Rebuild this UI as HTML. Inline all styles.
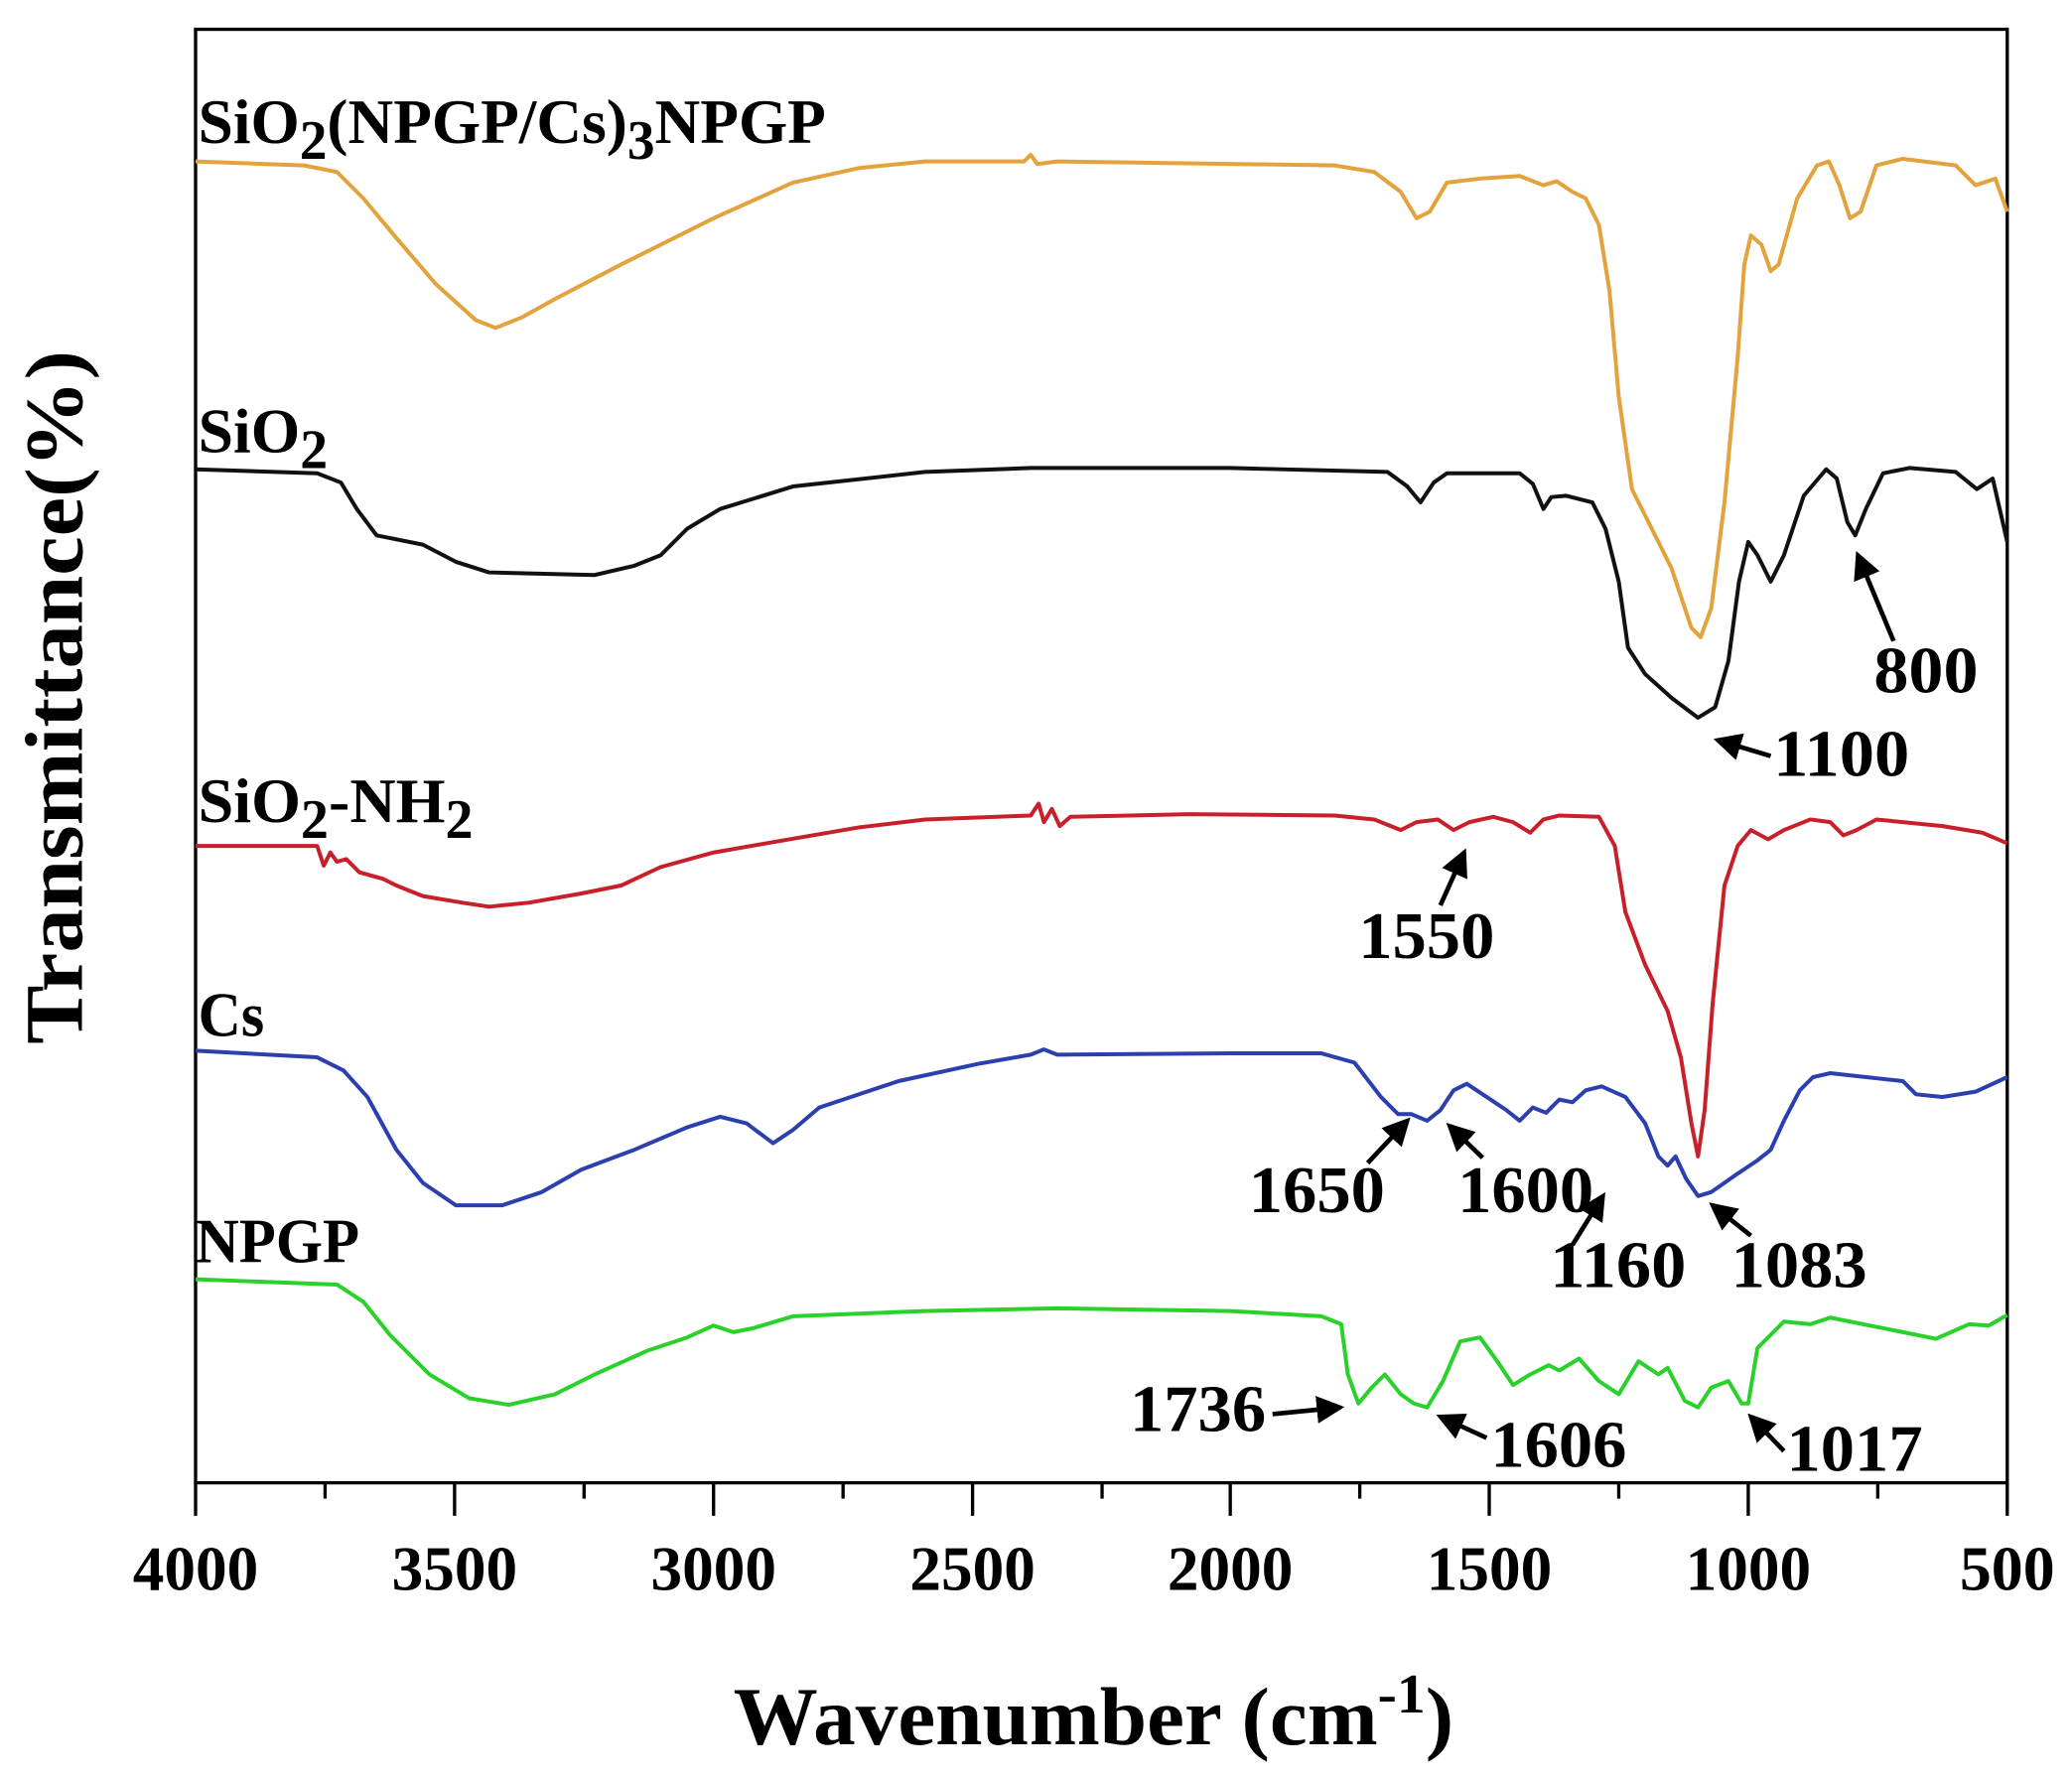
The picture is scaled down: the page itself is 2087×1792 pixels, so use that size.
<!DOCTYPE html>
<html><head><meta charset="utf-8"><style>html,body{margin:0;padding:0;background:#fff}svg{display:block}</style></head>
<body>
<svg width="2087" height="1792" viewBox="0 0 1568 1346" xmlns="http://www.w3.org/2000/svg" font-family="Liberation Serif, serif" font-weight="bold">
<defs><marker id="ah" markerWidth="6" markerHeight="6" refX="5" refY="3" orient="auto" markerUnits="strokeWidth"><path d="M0,0 L6,3 L0,6 Z" fill="#000"/></marker></defs>
<rect x="148" y="22" width="1371" height="1100" fill="none" stroke="#000" stroke-width="2.5"/>
<g stroke="#000" stroke-width="2.5">
<line x1="148" y1="1122" x2="148" y2="1147"/><line x1="344" y1="1122" x2="344" y2="1147"/><line x1="540" y1="1122" x2="540" y2="1147"/><line x1="736" y1="1122" x2="736" y2="1147"/><line x1="931" y1="1122" x2="931" y2="1147"/><line x1="1127" y1="1122" x2="1127" y2="1147"/><line x1="1323" y1="1122" x2="1323" y2="1147"/><line x1="1519" y1="1122" x2="1519" y2="1147"/>
<line x1="246" y1="1122" x2="246" y2="1134"/><line x1="442" y1="1122" x2="442" y2="1134"/><line x1="638" y1="1122" x2="638" y2="1134"/><line x1="834" y1="1122" x2="834" y2="1134"/><line x1="1029" y1="1122" x2="1029" y2="1134"/><line x1="1225" y1="1122" x2="1225" y2="1134"/><line x1="1421" y1="1122" x2="1421" y2="1134"/>
</g>
<g font-size="48" text-anchor="middle">
<text x="148" y="1203" textLength="95" lengthAdjust="spacingAndGlyphs">4000</text><text x="344" y="1203" textLength="95" lengthAdjust="spacingAndGlyphs">3500</text><text x="540" y="1203" textLength="95" lengthAdjust="spacingAndGlyphs">3000</text><text x="736" y="1203" textLength="95" lengthAdjust="spacingAndGlyphs">2500</text><text x="931" y="1203" textLength="95" lengthAdjust="spacingAndGlyphs">2000</text><text x="1127" y="1203" textLength="95" lengthAdjust="spacingAndGlyphs">1500</text><text x="1323" y="1203" textLength="95" lengthAdjust="spacingAndGlyphs">1000</text><text x="1519" y="1203" textLength="72" lengthAdjust="spacingAndGlyphs">500</text>
</g>
<text x="555" y="1320" font-size="62" textLength="545" lengthAdjust="spacingAndGlyphs">Wavenumber (cm<tspan dy="-24" font-size="42">-1</tspan><tspan dy="24">)</tspan></text>
<text transform="translate(62,790) rotate(-90)" font-size="62" textLength="525" lengthAdjust="spacingAndGlyphs">Transmittance(%)</text>
<g fill="none" stroke-width="3" stroke-linejoin="round">
<path stroke="#e3a23c" d="M148,122 L230,125 L255,130 L275,150 L300,180 L330,215 L360,242 L375,248 L395,240 L422,225 L470,200 L540,165 L600,138 L650,127 L700,122 L775,122 L780,117 L785,124 L800,122 L1010,125 L1040,130 L1060,145 L1072,165 L1082,160 L1095,138 L1120,135 L1150,133 L1168,140 L1178,137 L1190,145 L1200,150 L1210,170 L1218,220 L1225,300 L1235,370 L1250,400 L1265,430 L1280,475 L1287,482 L1295,460 L1305,380 L1315,270 L1320,200 L1325,178 L1333,185 L1340,205 L1346,200 L1360,150 L1375,125 L1384,122 L1392,140 L1400,165 L1408,160 L1420,125 L1440,120 L1480,125 L1495,140 L1510,135 L1519,160"/>
<path stroke="#111" d="M148,355 L240,358 L258,365 L270,385 L285,405 L320,412 L345,425 L370,433 L450,435 L480,428 L500,420 L520,400 L545,385 L600,368 L700,357 L780,354 L931,354 L1050,357 L1065,368 L1075,380 L1085,365 L1095,358 L1150,358 L1160,366 L1168,385 L1174,376 L1185,375 L1205,380 L1215,400 L1225,440 L1232,490 L1245,510 L1265,528 L1285,543 L1298,535 L1308,500 L1316,440 L1323,410 L1330,420 L1340,440 L1350,420 L1365,375 L1382,355 L1390,362 L1398,395 L1404,405 L1412,385 L1425,358 L1445,354 L1480,357 L1496,370 L1508,362 L1519,410"/>
<path stroke="#c8202a" d="M148,640 L240,640 L245,655 L250,645 L255,652 L262,650 L272,660 L290,665 L300,670 L320,678 L350,683 L370,686 L400,683 L440,676 L470,670 L500,656 L540,645 L580,638 L650,626 L700,620 L780,617 L786,608 L790,622 L796,612 L802,625 L810,618 L900,616 L1010,617 L1040,620 L1060,628 L1072,622 L1088,620 L1100,628 L1112,622 L1130,618 L1145,622 L1158,630 L1168,620 L1180,617 L1210,618 L1222,640 L1230,690 L1245,730 L1262,765 L1272,800 L1280,850 L1285,875 L1290,840 L1296,760 L1305,670 L1315,640 L1325,628 L1338,635 L1350,628 L1370,620 L1385,622 L1395,632 L1405,628 L1420,620 L1470,625 L1500,630 L1519,638"/>
<path stroke="#2c3fae" d="M148,795 L240,800 L260,810 L278,830 L300,870 L320,895 L345,912 L380,912 L410,902 L440,885 L480,870 L520,853 L545,845 L565,850 L585,865 L600,855 L620,838 L680,818 L740,805 L780,798 L790,794 L800,798 L931,797 L1000,797 L1025,804 L1045,830 L1058,843 L1068,843 L1080,848 L1090,840 L1100,825 L1110,820 L1125,830 L1140,840 L1150,848 L1160,838 L1170,842 L1180,832 L1190,834 L1200,825 L1212,822 L1230,830 L1245,850 L1255,875 L1262,882 L1268,875 L1276,892 L1285,905 L1295,902 L1305,895 L1315,888 L1330,878 L1340,870 L1350,848 L1362,825 L1372,815 L1385,812 L1440,818 L1450,828 L1470,830 L1495,826 L1519,815"/>
<path stroke="#2bd12b" d="M148,968 L255,972 L275,985 L295,1010 L325,1040 L355,1058 L385,1063 L420,1055 L450,1040 L490,1022 L520,1012 L540,1003 L555,1008 L570,1005 L600,996 L700,992 L800,990 L931,992 L1000,996 L1015,1002 L1020,1040 L1028,1062 L1038,1050 L1048,1040 L1060,1055 L1070,1062 L1080,1065 L1092,1045 L1105,1015 L1120,1012 L1133,1030 L1145,1048 L1158,1040 L1172,1033 L1180,1037 L1195,1028 L1210,1045 L1225,1055 L1240,1030 L1255,1040 L1262,1035 L1275,1060 L1285,1065 L1295,1050 L1308,1045 L1318,1062 L1323,1062 L1330,1020 L1340,1010 L1350,1000 L1370,1002 L1385,997 L1440,1008 L1465,1013 L1490,1002 L1505,1003 L1519,995"/>
</g>
<g font-size="48">
<text x="150" y="108" textLength="475" lengthAdjust="spacingAndGlyphs">SiO<tspan dy="12" font-size="42">2</tspan><tspan dy="-12">(NPGP/Cs)</tspan><tspan dy="12" font-size="42">3</tspan><tspan dy="-12">NPGP</tspan></text>
<text x="150" y="342" textLength="98" lengthAdjust="spacingAndGlyphs">SiO<tspan dy="12" font-size="42">2</tspan></text>
<text x="150" y="622" textLength="208" lengthAdjust="spacingAndGlyphs">SiO<tspan dy="12" font-size="42">2</tspan><tspan dy="-12">-NH</tspan><tspan dy="12" font-size="42">2</tspan></text>
<text x="150" y="784" textLength="50" lengthAdjust="spacingAndGlyphs">Cs</text>
<text x="148" y="955" textLength="124" lengthAdjust="spacingAndGlyphs">NPGP</text>
</g>
<g font-size="50">
<text x="1418" y="524" textLength="79" lengthAdjust="spacingAndGlyphs">800</text>
<text x="1342" y="587" textLength="103" lengthAdjust="spacingAndGlyphs">1100</text>
<text x="1028" y="725" textLength="103" lengthAdjust="spacingAndGlyphs">1550</text>
<text x="945" y="917" textLength="103" lengthAdjust="spacingAndGlyphs">1650</text>
<text x="1103" y="917" textLength="103" lengthAdjust="spacingAndGlyphs">1600</text>
<text x="1173" y="974" textLength="103" lengthAdjust="spacingAndGlyphs">1160</text>
<text x="1310" y="974" textLength="103" lengthAdjust="spacingAndGlyphs">1083</text>
<text x="855" y="1083" textLength="103" lengthAdjust="spacingAndGlyphs">1736</text>
<text x="1128" y="1110" textLength="103" lengthAdjust="spacingAndGlyphs">1606</text>
<text x="1352" y="1113" textLength="103" lengthAdjust="spacingAndGlyphs">1017</text>
</g>
<g stroke="#000" stroke-width="3.5" marker-end="url(#ah)">
<line x1="1433" y1="485" x2="1406" y2="420"/>
<line x1="1340" y1="572" x2="1300" y2="560"/>
<line x1="1090" y1="685" x2="1108" y2="645"/>
<line x1="1035" y1="880" x2="1065" y2="848"/>
<line x1="1122" y1="876" x2="1097" y2="852"/>
<line x1="1190" y1="942" x2="1213" y2="905"/>
<line x1="1325" y1="935" x2="1296" y2="912"/>
<line x1="963" y1="1070" x2="1014" y2="1065"/>
<line x1="1125" y1="1088" x2="1090" y2="1072"/>
<line x1="1350" y1="1098" x2="1325" y2="1072"/>
</g>
</svg>
</body></html>
